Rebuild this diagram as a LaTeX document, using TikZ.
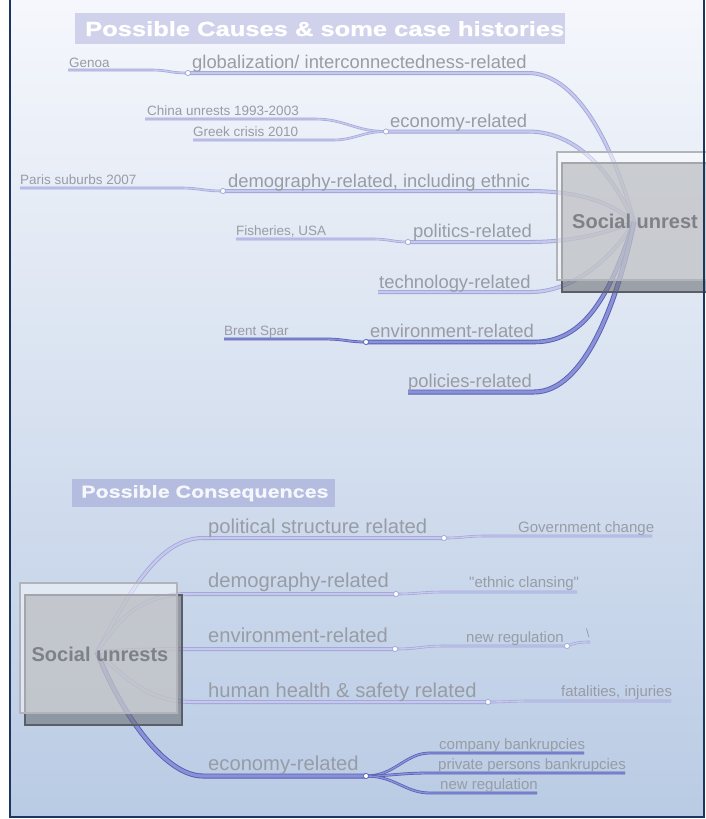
\documentclass[tikz,border=0pt]{standalone}
\usepackage{fontspec}
\setmainfont{Liberation Sans}[Ligatures=TeXOff]
\newfontfamily\widesans{Liberation Sans}[FakeStretch=1.25,FakeBold=1]

\definecolor{bgtop}{RGB}{245,247,252}
\definecolor{bgbot}{RGB}{185,203,228}
\definecolor{frameblue}{RGB}{28,54,94}
\definecolor{lavedge}{RGB}{160,165,218}
\definecolor{lavfill}{RGB}{198,201,236}
\definecolor{darkedge}{RGB}{86,94,182}
\definecolor{darkfill}{RGB}{138,145,214}
\definecolor{labgray}{RGB}{152,156,165}
\definecolor{hubgray}{RGB}{126,129,135}
\definecolor{boxgray}{RGB}{110,114,120}
\definecolor{boxedge}{RGB}{90,94,102}
\definecolor{veilborder}{RGB}{178,180,185}
\definecolor{headfillA}{RGB}{208,210,236}
\definecolor{headfillB}{RGB}{180,188,224}

\tikzset{
  branch/.style={draw=lavedge, double=lavfill, line width=0.8pt, double distance=2.4pt},
  twig/.style={draw=lavedge, double=lavfill, line width=0.6pt, double distance=1.4pt},
  strongbranch/.style={draw=darkedge, double=darkfill, line width=0.9pt, double distance=2.8pt},
  strongtwig/.style={draw=darkedge, double=darkfill, line width=0.7pt, double distance=1.4pt},
  joint/.style={circle, inner sep=0pt, minimum size=5pt, draw=lavedge, fill=white, line width=0.6pt},
  darkjoint/.style={joint, draw=darkedge},
  lbl/.style={anchor=base west, inner sep=0pt, text=labgray},
  bigT/.style={lbl, font=\fontsize{18.4}{20}\selectfont},
  smallT/.style={lbl, font=\fontsize{13.5}{15}\selectfont},
  bigB/.style={lbl, font=\fontsize{20.2}{22}\selectfont},
  smallB/.style={lbl, font=\fontsize{15}{17}\selectfont},
  backbox/.style={draw=boxedge, line width=1.2pt, fill=boxgray, fill opacity=0.6},
  frontbox/.style={draw=veilborder, line width=1.5pt, fill=white, fill opacity=0.45},
  hubtext/.style={inner sep=0pt, font=\bfseries\fontsize{20}{24}\selectfont, text=hubgray},
  headtext/.style={anchor=west, inner sep=0pt, text=white},
}

\begin{document}
\begin{tikzpicture}[x=1pt,y=-1pt]
\useasboundingbox (0,0) rectangle (706,819);
\fill[white] (0,0) rectangle (706,819);
\shade[top color=bgtop, bottom color=bgbot] (10,0) rectangle (704,817);

% ---------- causes: hub and joints ----------
\coordinate (hubT) at (634,222);
\node[joint] (jGlob) at (188,73) {};
\node[joint] (jEcon) at (386,131.5) {};
\node[joint] (jDemo) at (223,191) {};
\node[joint] (jPoli) at (408,242) {};
\node[darkjoint] (jEnv) at (366,342) {};

\coordinate (sGenoa) at (68,70);
\coordinate (sChina) at (145,119);
\coordinate (sGreek) at (193,140);
\coordinate (sParis) at (20,188);
\coordinate (sFish) at (236,239);
\coordinate (sTech) at (378,292);
\coordinate (sBrent) at (224,339);
\coordinate (sPolicy) at (408,392);

% case-history twigs
\draw[twig] (sGenoa) -- (150,70) .. controls (170,70) and (168,73) .. (jGlob.center);
\draw[twig] (sChina) -- (315,119) .. controls (345,119) and (355,131.5) .. (jEcon.center);
\draw[twig] (sGreek) -- (333,140) .. controls (355,140) and (362,131.5) .. (jEcon.center);
\draw[twig] (sParis) -- (180,188) .. controls (200,188) and (203,191) .. (jDemo.center);
\draw[twig] (sFish) -- (372,239) .. controls (390,239) and (392,242) .. (jPoli.center);
\draw[strongtwig] (sBrent) -- (324,339) .. controls (345,339) and (348,342) .. (jEnv.center);

% cause branches into the hub
\draw[branch] (jGlob.center) -- (528,73) .. controls (575,73) and (612,140) .. (hubT);
\draw[branch] (jEcon.center) -- (528,131.5) .. controls (572,131.5) and (608,165) .. (hubT);
\draw[branch] (jDemo.center) -- (528,191) .. controls (575,191) and (608,200) .. (hubT);
\draw[branch] (jPoli.center) -- (530,242) .. controls (575,242) and (608,232) .. (hubT);
\draw[branch] (sTech) -- (531,292) .. controls (570,292) and (610,262) .. (hubT);
\draw[strongbranch] (jEnv.center) -- (534,342) .. controls (585,342) and (610,295) .. (hubT);
\draw[strongbranch, double distance=3.2pt] (sPolicy) -- (534,392) .. controls (585,392) and (618,300) .. (hubT);

\foreach \j in {jGlob,jEcon,jDemo,jPoli}{\node[joint] at (\j) {};}
\node[darkjoint] at (jEnv) {};

% ---------- consequences: hub and joints ----------
\coordinate (hubB) at (97,652);
\node[joint] (kPol) at (444,538) {};
\node[joint] (kDem) at (396,594) {};
\node[joint] (kEnv) at (395,649) {};
\node[joint] (kReg) at (567,646) {};
\node[joint] (kHea) at (488,702) {};
\node[darkjoint] (kEco) at (366,776) {};

\coordinate (eGov) at (652,536);
\coordinate (eEth) at (577,592);
\coordinate (eTick) at (590,642);
\coordinate (eFat) at (671,701);
\coordinate (eComp) at (584,753);
\coordinate (ePriv) at (625,773);
\coordinate (eNew) at (537,793);

\draw[branch] (hubB) .. controls (130,590) and (160,538) .. (203,538) -- (kPol.center);
\draw[branch] (hubB) .. controls (125,608) and (150,594) .. (190,594) -- (kDem.center);
\draw[branch] (hubB) .. controls (130,650) and (160,649) .. (190,649) -- (kEnv.center);
\draw[branch] (hubB) .. controls (130,682) and (150,702) .. (194,702) -- (kHea.center);
\draw[strongbranch, double distance=3.2pt] (hubB) .. controls (122,715) and (165,776) .. (203,776) -- (kEco.center);

\draw[twig] (kPol.center) .. controls (465,538) and (465,536) .. (486,536) -- (eGov);
\draw[twig] (kDem.center) .. controls (420,594) and (420,592) .. (445,592) -- (eEth);
\draw[twig] (kEnv.center) .. controls (420,649) and (420,646) .. (445,646) -- (kReg.center);
\draw[twig] (kReg.center) .. controls (575,643) and (578,642) .. (eTick);
\draw[twig] (kHea.center) .. controls (510,702) and (510,701) .. (530,701) -- (eFat);
\draw[strongtwig] (kEco.center) .. controls (395,776) and (405,753) .. (430,753) -- (eComp);
\draw[strongtwig] (kEco.center) .. controls (390,776) and (400,773) .. (430,773) -- (ePriv);
\draw[strongtwig] (kEco.center) .. controls (395,776) and (405,793) .. (430,793) -- (eNew);

\foreach \j in {kPol,kDem,kEnv,kReg,kHea}{\node[joint] at (\j) {};}
\node[darkjoint] at (kEco) {};

% ---------- hub boxes ----------
\draw[backbox] (562,163) rectangle (712,292);
\draw[frontbox] (557,152) rectangle (712,280);
\node[hubtext, anchor=base] (hubTtext) at (635,228) {Social unrest};

\draw[backbox] (25,595) rectangle (182,725);
\draw[frontbox] (20,583) rectangle (177,713);
\node[hubtext, anchor=base] (hubBtext) at (100,661) {Social unrests};

% ---------- headings ----------
\node[fill=headfillA, minimum width=490pt, minimum height=31pt, inner sep=0pt, anchor=north west] (headA) at (75,13) {};
\node[headtext, font=\widesans\bfseries\fontsize{20.4}{24}\selectfont] (headAtext) at ([xshift=10pt]headA.west) {Possible Causes \& some case histories};
\node[fill=headfillB, minimum width=263pt, minimum height=28pt, inner sep=0pt, anchor=north west] (headB) at (72,479) {};
\node[headtext, text=white!88!headfillB, font=\widesans\bfseries\fontsize{17.2}{20}\selectfont] (headBtext) at ([xshift=9pt]headB.west) {Possible Consequences};

% ---------- cause labels ----------
\node[smallT] (tGenoa) at (69,67) {Genoa};
\node[bigT] (tGlob) at (192,68) {globalization/ interconnectedness-related};
\node[smallT] (tChina) at (147,115) {China unrests 1993-2003};
\node[smallT] (tGreek) at (193,136) {Greek crisis 2010};
\node[bigT] (tEcon) at (390,127) {economy-related};
\node[smallT] (tParis) at (20,184) {Paris suburbs 2007};
\node[bigT] (tDemo) at (228,187) {demography-related, including ethnic};
\node[smallT] (tFish) at (236,235) {Fisheries, USA};
\node[bigT] (tPoli) at (413,237) {politics-related};
\node[bigT] (tTech) at (379,288) {technology-related};
\node[smallT] (tBrent) at (224,335) {Brent Spar};
\node[bigT] (tEnv) at (370,337) {environment-related};
\node[bigT] (tPolicy) at (408,387) {policies-related};

% ---------- consequence labels ----------
\node[bigB] (uPol) at (208,533) {political structure related};
\node[smallB] (uGov) at (518,532) {Government change};
\node[bigB] (uDem) at (208,587) {demography-related};
\node[smallB] (uEth) at (469,587) {"ethnic clansing"};
\node[bigB] (uEnv) at (208,642) {environment-related};
\node[smallB] (uReg) at (466,642) {new regulation};
\node[smallB, font=\fontsize{12}{14}\selectfont] (uTick) at (586,637) {\textbackslash};
\node[bigB] (uHea) at (208,697) {human health \& safety related};
\node[smallB] (uFat) at (561,696) {fatalities, injuries};
\node[bigB] (uEco) at (208,770) {economy-related};
\node[smallB] (uComp) at (439,749) {company bankrupcies};
\node[smallB] (uPriv) at (438,769) {private persons bankrupcies};
\node[smallB] (uNew) at (440,789) {new regulation};

% ---------- frame ----------
\draw[frameblue, line width=2pt] (10,-3) -- (10,817) -- (704,817) -- (704,-3);
\end{tikzpicture}
\end{document}
